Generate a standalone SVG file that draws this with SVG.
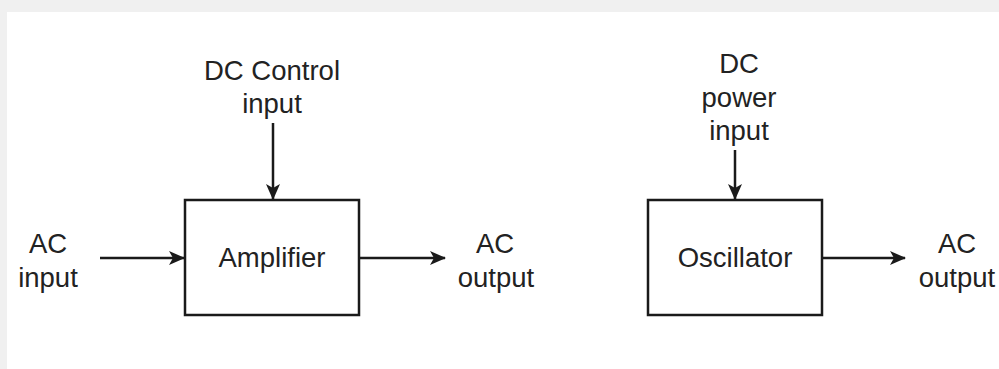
<svg xmlns="http://www.w3.org/2000/svg" width="999" height="369" viewBox="0 0 999 369">
<style>
.t{font-family:"Liberation Sans",Arial,sans-serif;font-size:27.5px;fill:#222;text-anchor:middle}
.box{fill:#fff;stroke:#1a1a1a;stroke-width:2.5}
.ln{stroke:#1a1a1a;stroke-width:2.5;fill:none;marker-end:url(#ah)}
</style>
<defs>
<marker id="ah" viewBox="0 0 16 16" refX="15" refY="8" markerWidth="16" markerHeight="16" markerUnits="userSpaceOnUse" orient="auto">
<path d="M0,1 L16,8 L0,15 L4,8 Z" fill="#1a1a1a"/>
</marker>
</defs>
<rect x="0" y="0" width="999" height="369" fill="#f0f0f0"/>
<rect x="7" y="12" width="992" height="357" fill="#fff"/>
<g id="connectors">
<line class="ln" x1="273" y1="123" x2="273" y2="199"/>
<line class="ln" x1="100" y1="258" x2="184" y2="258"/>
<line class="ln" x1="360" y1="258" x2="445" y2="258"/>
<line class="ln" x1="735" y1="150" x2="735" y2="199"/>
<line class="ln" x1="823" y1="258" x2="905" y2="258"/>
</g>
<g id="amplifier">
<rect class="box" x="185" y="200" width="174" height="115"/>
<text class="t" x="272" y="267">Amplifier</text>
</g>
<g id="oscillator">
<rect class="box" x="648" y="200" width="174" height="115"/>
<text class="t" x="735" y="267">Oscillator</text>
</g>
<g id="dc-control-input">
<text class="t" x="272" y="80">DC Control</text>
<text class="t" x="272" y="113">input</text>
</g>
<g id="ac-input">
<text class="t" x="48" y="253">AC</text>
<text class="t" x="48" y="287">input</text>
</g>
<g id="ac-output-1">
<text class="t" x="495" y="253">AC</text>
<text class="t" x="496" y="287">output</text>
</g>
<g id="dc-power-input">
<text class="t" x="739" y="73">DC</text>
<text class="t" x="739" y="107">power</text>
<text class="t" x="739" y="140">input</text>
</g>
<g id="ac-output-2">
<text class="t" x="957" y="253">AC</text>
<text class="t" x="957" y="287">output</text>
</g>
</svg>
